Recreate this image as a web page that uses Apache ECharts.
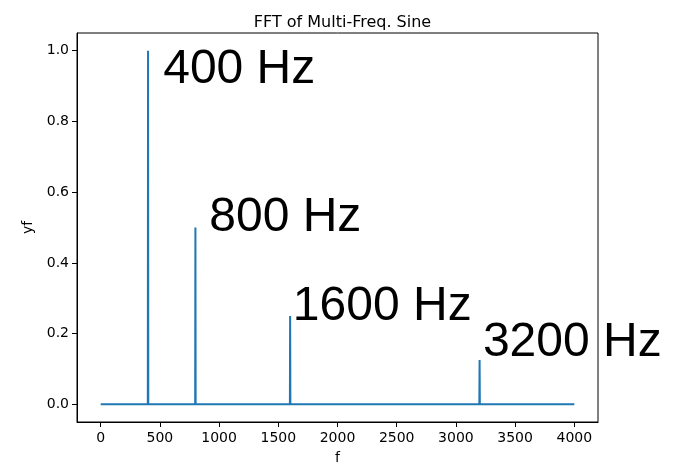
<!DOCTYPE html>
<html>
<head>
<meta charset="utf-8">
<script src="https://cdn.jsdelivr.net/npm/echarts@6/dist/echarts.min.js"></script>
<style>
  html, body { margin: 0; padding: 0; background: #fff; }
  #chart { width: 679px; height: 463px; }
</style>
</head>
<body>
<div id="chart"></div>
<script>
// Spectrum samples: frequency (Hz) and normalised magnitude
const freqs = [0, 398, 400, 402, 798, 800, 802, 1598, 1600, 1602, 3198, 3200, 3202, 4000];
const amps  = [0, 0, 1.0, 0, 0, 0.5, 0, 0, 0.25, 0, 0, 0.125, 0, 0];

// Peak annotations: anchor (left/baseline) in data coordinates
const peakText = ['400 Hz', '800 Hz', '1600 Hz', '3200 Hz'];
const peakTextX = [528, 917, 1623, 3228];
const peakTextY = [0.903, 0.484, 0.233, 0.131];

// Tick positions
const xTicks = [0, 500, 1000, 1500, 2000, 2500, 3000, 3500, 4000];
const yTicks = [0.0, 0.2, 0.4, 0.6, 0.8, 1.0];

const tickFont = { fontFamily: 'DejaVu Sans', fontSize: 14, color: '#000' };
const annoSize = 48;

const chart = echarts.init(document.getElementById('chart'), null, { renderer: 'canvas' });

chart.setOption({
  animation: false,
  backgroundColor: '#fff',
  title: {
    text: 'FFT of Multi-Freq. Sine',
    left: 337.5,
    top: 10,
    textAlign: 'center',
    textStyle: { fontFamily: 'DejaVu Sans', fontSize: 16, fontWeight: 'normal', color: '#000' }
  },
  grid: {
    left: 77, right: 81, top: 33, bottom: 41,
    outerBoundsMode: 'none',
    containLabel: false,
    show: true, borderColor: '#000', borderWidth: 1, backgroundColor: 'transparent'
  },
  xAxis: {
    type: 'value',
    min: -200, max: 4200,
    name: 'f',
    nameLocation: 'middle',
    nameGap: 29,
    nameTextStyle: { fontFamily: 'DejaVu Sans', fontSize: 14, color: '#000' },
    axisLine: { show: true, onZero: false, lineStyle: { color: '#000', width: 1 } },
    axisTick: { show: true, length: 5, customValues: xTicks, lineStyle: { color: '#000' } },
    axisLabel: Object.assign({
      customValues: xTicks, margin: 9,
      formatter: v => String(v)
    }, tickFont),
    splitLine: { show: false }
  },
  yAxis: {
    type: 'value',
    min: -0.05, max: 1.05,
    name: 'yf',
    nameLocation: 'middle',
    nameGap: 38,
    nameTextStyle: { fontFamily: 'DejaVu Sans', fontSize: 14, color: '#000' },
    axisLine: { show: true, onZero: false, lineStyle: { color: '#000', width: 1 } },
    axisTick: { show: true, length: 5, customValues: yTicks, lineStyle: { color: '#000' } },
    axisLabel: Object.assign({
      customValues: yTicks, margin: 8,
      formatter: v => v.toFixed(1)
    }, tickFont),
    splitLine: { show: false }
  },
  series: [
    {
      type: 'line',
      data: freqs.map((f, i) => [f, amps[i]]),
      showSymbol: false,
      symbol: 'none',
      lineStyle: { color: '#1f77b4', width: 2 },
      clip: true,
      markPoint: {
        symbol: 'circle',
        symbolSize: 0,
        silent: true,
        data: peakText.map((t, i) => ({
          coord: [peakTextX[i], peakTextY[i]],
          label: {
            show: true,
            formatter: t,
            position: [0, 0],
            align: 'left',
            verticalAlign: 'bottom',
            fontFamily: 'Liberation Sans',
            fontSize: annoSize,
            color: '#000',
            lineHeight: annoSize,
            offset: [0, 9]
          }
        }))
      }
    }
  ]
});
</script>
</body>
</html>
